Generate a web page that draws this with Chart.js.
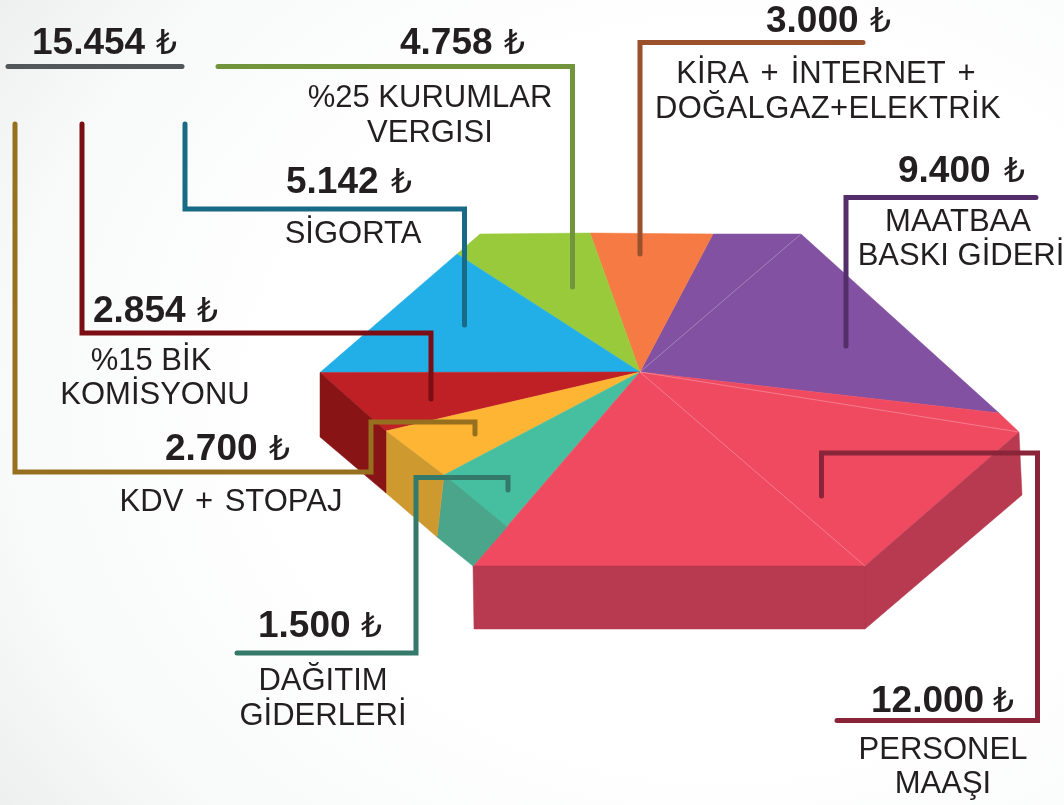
<!DOCTYPE html>
<html>
<head>
<meta charset="utf-8">
<style>
  html, body { margin: 0; padding: 0; }
  body { width: 1064px; height: 805px; overflow: hidden;
         background: radial-gradient(ellipse 1000px 800px at 720px 400px, #fff 45%, #f8f9f9 72%, #eceeee 90%); }
  canvas { display: block; }
</style>
<script src="https://cdn.jsdelivr.net/npm/chart.js@4"></script>
</head>
<body>
<canvas id="costChart" width="1064" height="805"></canvas>
<script>
// Slices in clockwise order, starting at the purple/red edge
const categories = ['PERSONEL MAAŞI', 'DAĞITIM GİDERLERİ', 'KDV + STOPAJ', '%15 BİK KOMİSYONU',
                    'SİGORTA', '%25 KURUMLAR VERGISI', 'KİRA + İNTERNET + DOĞALGAZ+ELEKTRİK', 'MAATBAA BASKI GİDERİ'];
const costs = [12000, 1500, 2700, 2854, 5142, 4758, 3000, 9400];
const bracketTotal = 15454;

const topColors = ['#F04A60', '#46BFA0', '#FFB534', '#BF2026', '#22AEE6', '#99CA3C', '#F57A43', '#8351A1'];
const wallColors = ['#B73A50', '#4BA58A', '#CE9A30', '#881416', null, null, null, null];

// The faceted perspective: [pie fraction, dx, dy] around the rim, px from the centre at radius 372
const rim = [
    [0, 359, 41], [0.03, 379, 60], [0.13, 225, 194], [0.29018, -167, 194],
    [0.32645, -196, 103], [0.39174, -254, 59], [0.46075, -320, 0.5], [0.5851, -183, -118],
    [0.6, -160, -138], [0.70015, -50, -139], [0.7727, 73, -138], [0.85, 161, -138], [1, 359, 41]
];
// Fold lines drawn from the centre out to these rim fractions
const creases = [0.03, 0.13, 0.85];
// Side walls: [from, to, top a, bottom a, top b, bottom b]
const walls = [
    [0.03, 0.13, [379, 60], [382, 123], [225, 194], [225, 257]],
    [0.13, 0.29018, [225, 194], [225, 257], [-167, 194], [-166, 257]],
    [0.29018, 0.32645, [-133, 155], [-167, 194], [-196, 103], [-203, 165]],
    [0.32645, 0.39174, [-196, 103], [-203, 165], [-254, 59], [-254, 121]],
    [0.39174, 0.46075, [-254, 59], [-254, 121], [-320, 0.5], [-320, 65]]
];

// Leader lines, drawn over the chart
const leaders = [
    { color: '#525759', points: [[8, 66.5], [182, 66.5]] },
    { color: '#71943D', points: [[218, 66.5], [572.5, 66.5], [572.5, 287]] },
    { color: '#98512B', points: [[863, 42.5], [640, 42.5], [640, 254]] },
    { color: '#532E6B', points: [[1036, 197.5], [846, 197.5], [846, 346]] },
    { color: '#186A86', points: [[185, 124], [185, 209], [464.5, 209], [464.5, 325]] },
    { color: '#7B0E14', points: [[82, 124], [82, 333], [431, 333], [431, 399]] },
    { color: '#96701F', points: [[15, 124], [15, 472], [371, 472], [371, 422], [475, 422], [475, 434]] },
    { color: '#35796A', points: [[237, 653], [416, 653], [416, 477.5], [508, 477.5], [508, 490]] },
    { color: '#8A2539', points: [[821.5, 496], [821.5, 453], [1037.5, 453], [1037.5, 720.5], [837, 720.5]] }
];

// Amount labels: [value, left x, baseline y, lira x]
const amounts = [
    [bracketTotal, 32, 54, 156], [costs[5], 400, 54, 504], [costs[6], 766, 32, 870],
    [costs[7], 898, 182, 1004], [costs[4], 286, 193, 391], [costs[3], 93, 322, 197],
    [costs[2], 165, 460, 269], [costs[1], 258, 637, 361], [costs[0], 871, 712, 993]
];
// Caption lines: [text, centre x, baseline y, word spacing, letter spacing]
const captions = [
    ['%25 KURUMLAR', 430, 107], ['VERGISI', 430, 142],
    ['KİRA + İNTERNET +', 826, 83, 3.3], ['DOĞALGAZ+ELEKTRİK', 828, 118, 0, 0.35],
    ['MAATBAA', 958, 231], ['BASKI GİDERİ', 961, 265],
    ['SİGORTA', 353, 243],
    ['%15 BİK', 151, 370], ['KOMİSYONU', 155, 404],
    ['KDV + STOPAJ', 231, 511, 3],
    ['DAĞITIM', 323, 690], ['GİDERLERİ', 323, 725],
    ['PERSONEL', 943, 759], ['MAAŞI', 943, 793]
];

const lerp = (a, b, t) => a + (b - a) * t;
const toFraction = angle => (angle + Math.PI / 2) / (2 * Math.PI);

function rimPoint(f) {
    for (let i = 1; i < rim.length; i++) {
        if (f <= rim[i][0] + 1e-9) {
            const a = rim[i - 1], b = rim[i];
            const t = (f - a[0]) / (b[0] - a[0]);
            return [lerp(a[1], b[1], t), lerp(a[2], b[2], t)];
        }
    }
    return [rim[0][1], rim[0][2]];
}

// Replaces each round arc by its flat facet, keeping the angles the library worked out
const facetPlugin = {
    id: 'facets',
    beforeDatasetDraw(chart) {
        const ctx = chart.ctx;
        const arcs = chart.getDatasetMeta(0).data;
        const cx = arcs[0].x, cy = arcs[0].y;
        const k = arcs[0].outerRadius / 372;
        const px = p => [cx + p[0] * k, cy + p[1] * k];
        const fillPoly = (points, color) => {
            ctx.beginPath();
            points.forEach((p, i) => i ? ctx.lineTo(p[0], p[1]) : ctx.moveTo(p[0], p[1]));
            ctx.closePath();
            ctx.fillStyle = color;
            ctx.strokeStyle = color;
            ctx.lineWidth = 0.5;
            ctx.fill();
            ctx.stroke();
        };
        const ranges = arcs.map(a => [toFraction(a.startAngle), toFraction(a.endAngle)]);

        // top faces, the first slice last so it lies over its neighbours
        for (let i = arcs.length - 1; i >= 0; i--) {
            const [f0, f1] = ranges[i];
            const pts = [[cx, cy], px(rimPoint(f0))];
            rim.forEach(v => { if (v[0] > f0 + 1e-6 && v[0] < f1 - 1e-6) pts.push(px([v[1], v[2]])); });
            pts.push(px(rimPoint(f1)));
            fillPoly(pts, topColors[i]);
        }
        // side walls
        walls.forEach(w => {
            const mid = (w[0] + w[1]) / 2;
            const i = ranges.findIndex(r => mid >= r[0] && mid < r[1]);
            if (i >= 0 && wallColors[i]) fillPoly([px(w[2]), px(w[4]), px(w[5]), px(w[3])], wallColors[i]);
        });
        // fold lines
        ctx.strokeStyle = 'rgba(255,255,255,0.35)';
        ctx.lineWidth = 0.8;
        creases.forEach(f => {
            const p = px(rimPoint(f));
            ctx.beginPath();
            ctx.moveTo(cx, cy);
            ctx.lineTo(p[0], p[1]);
            ctx.stroke();
        });
        return false;
    },
    afterDraw(chart) {
        const ctx = chart.ctx;
        ctx.save();
        ctx.lineWidth = 5;
        ctx.lineCap = 'round';
        ctx.lineJoin = 'miter';
        leaders.forEach(l => {
            ctx.beginPath();
            l.points.forEach((p, i) => i ? ctx.lineTo(p[0], p[1]) : ctx.moveTo(p[0], p[1]));
            ctx.strokeStyle = l.color;
            ctx.stroke();
        });
        ctx.fillStyle = '#231F20';
        ctx.textBaseline = 'alphabetic';
        ctx.textAlign = 'left';
        amounts.forEach(a => {
            ctx.font = 'bold 37px "Liberation Sans"';
            ctx.fillText(a[0].toLocaleString('de-DE'), a[1], a[2]);
            ctx.font = '33px "DejaVu Sans"';
            ctx.fillText('₺', a[3], a[2]);
        });
        ctx.textAlign = 'center';
        ctx.font = '31px "Liberation Sans"';
        captions.forEach(c => {
            ctx.wordSpacing = (c[3] || 0) + 'px';
            ctx.letterSpacing = (c[4] || 0) + 'px';
            ctx.fillText(c[0], c[1], c[2]);
        });
        ctx.restore();
    }
};

const costChart = new Chart(document.getElementById('costChart'), {
    type: 'pie',
    data: {
        labels: categories,
        datasets: [{ data: costs, backgroundColor: topColors, borderWidth: 0 }]
    },
    options: {
        responsive: false,
        animation: false,
        events: [],
        layout: { padding: { left: 216, right: 0, top: 0, bottom: 61 } },
        plugins: { legend: { display: false }, tooltip: { enabled: false } }
    },
    plugins: [facetPlugin]
});
</script>
</body>
</html>
